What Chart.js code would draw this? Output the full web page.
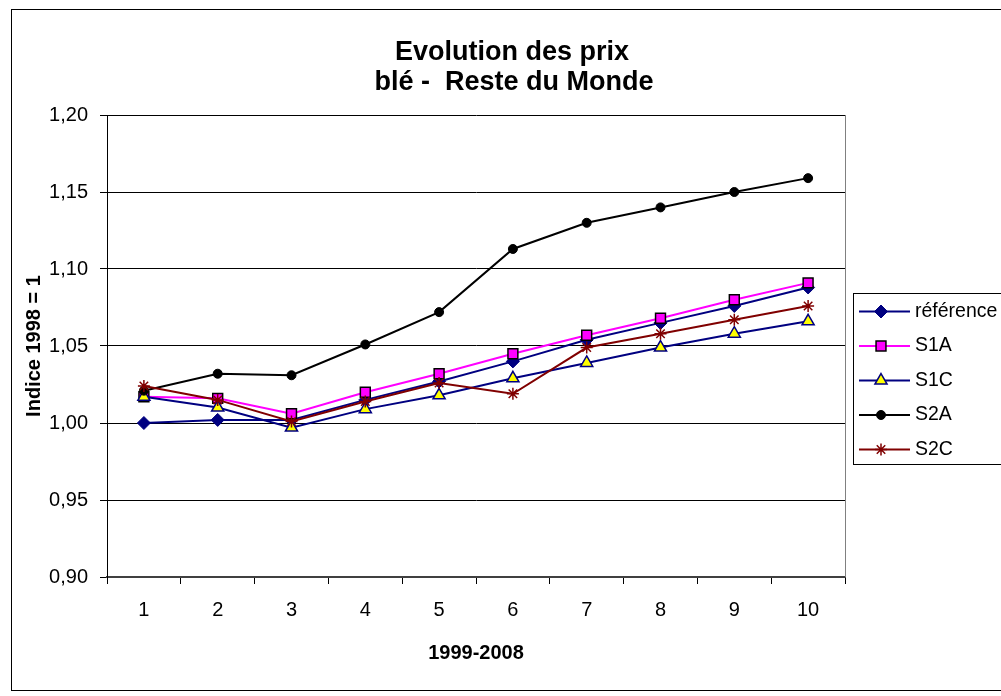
<!DOCTYPE html>
<html>
<head>
<meta charset="utf-8">
<script src="https://cdn.jsdelivr.net/npm/chart.js@4/dist/chart.umd.min.js"></script>
<style>
  html, body { margin: 0; padding: 0; background: #fff; }
  #wrap { position: relative; width: 1001px; height: 696px; }
</style>
</head>
<body>
<div id="wrap"><canvas id="prixChart" width="1001" height="696"></canvas></div>
<script>
// données
var annees = ['1', '2', '3', '4', '5', '6', '7', '8', '9', '10'];
var reference = [1.000, 1.002, 1.002, 1.015, 1.027, 1.040, 1.054, 1.065, 1.076, 1.088];
var s1a = [1.017, 1.016, 1.006, 1.020, 1.032, 1.045, 1.057, 1.068, 1.080, 1.091];
var s1c = [1.017, 1.010, 0.997, 1.009, 1.018, 1.029, 1.039, 1.049, 1.058, 1.066];
var s2a = [1.021, 1.032, 1.031, 1.051, 1.072, 1.113, 1.130, 1.140, 1.150, 1.159];
var s2c = [1.024, 1.015, 1.001, 1.014, 1.026, 1.019, 1.049, 1.058, 1.067, 1.076];
var nomsSeries = ['référence', 'S1A', 'S1C', 'S2A', 'S2C'];
var titre = ['Evolution des prix', 'blé -  Reste du Monde'];

var FONT = '"Liberation Sans", Arial, sans-serif';

var series = [
  { data: reference, line: '#000080', fill: '#000080', border: '#000080', style: 'rectRot', r: 6.5, bw: 1 },
  { data: s1a, line: '#FF00FF', fill: '#FF00FF', border: '#000000', style: 'rect', r: 7, bw: 1.5 },
  { data: s1c, line: '#000080', fill: '#FFFF00', border: '#000080', style: 'triangle', r: 7, bw: 1.5 },
  { data: s2a, line: '#000000', fill: '#000000', border: '#000000', style: 'circle', r: 4.5, bw: 1 },
  { data: s2c, line: '#800000', fill: '#800000', border: '#800000', style: 'star', r: 6, bw: 1.5 }
];

var datasets = [];
for (let i = 0; i < series.length; i++) {
  let s = series[i];
  datasets.push({
    label: nomsSeries[i],
    data: s.data,
    borderColor: s.line,
    borderWidth: 2,
    backgroundColor: s.fill,
    pointStyle: s.style,
    pointRadius: s.r,
    pointHoverRadius: s.r,
    pointBackgroundColor: s.fill,
    pointBorderColor: s.border,
    pointBorderWidth: s.bw,
    tension: 0,
    order: series.length - 1 - i
  });
}

// cadre, titre, bord droit et légende dessinés à la main
var decor = {
  id: 'decor',
  beforeDraw: function(chart) {
    var ctx = chart.ctx;
    ctx.save();
    ctx.fillStyle = '#fff';
    ctx.fillRect(0, 0, chart.width, chart.height);
    ctx.strokeStyle = '#000';
    ctx.lineWidth = 1;
    ctx.strokeRect(11.5, 9.5, 1010, 681);
    ctx.restore();
  },
  afterDraw: function(chart) {
    var ctx = chart.ctx;
    var ca = chart.chartArea;
    ctx.save();
    // bord droit de la zone de tracé
    ctx.strokeStyle = '#808080';
    ctx.lineWidth = 1;
    ctx.beginPath();
    ctx.moveTo(Math.round(ca.right) + 0.5, ca.top);
    ctx.lineTo(Math.round(ca.right) + 0.5, ca.bottom);
    ctx.stroke();

    // titre
    ctx.fillStyle = '#000';
    ctx.font = 'bold 27px ' + FONT;
    ctx.textAlign = 'center';
    ctx.textBaseline = 'alphabetic';
    ctx.fillText(titre[0], 512, 60);
    ctx.fillText(titre[1], 514, 90);

    // légende
    ctx.strokeStyle = '#000';
    ctx.strokeRect(853.5, 293.5, 200, 171);
    var ds = chart.data.datasets;
    for (let i = 0; i < ds.length; i++) {
      let y = 311.5 + i * 34.5;
      ctx.strokeStyle = ds[i].borderColor;
      ctx.lineWidth = 2;
      ctx.beginPath();
      ctx.moveTo(859, y);
      ctx.lineTo(910, y);
      ctx.stroke();
      ctx.fillStyle = ds[i].pointBackgroundColor;
      ctx.strokeStyle = ds[i].pointBorderColor;
      ctx.lineWidth = ds[i].pointBorderWidth;
      Chart.helpers.drawPoint(ctx, {
        pointStyle: ds[i].pointStyle,
        radius: ds[i].pointRadius,
        borderWidth: ds[i].pointBorderWidth,
        rotation: 0
      }, 881, y);
      ctx.fillStyle = '#000';
      ctx.font = '19.5px ' + FONT;
      ctx.textAlign = 'left';
      ctx.textBaseline = 'middle';
      ctx.fillText(ds[i].label, 915, y);
    }
    ctx.restore();
  }
};

new Chart(document.getElementById('prixChart'), {
  type: 'line',
  data: { labels: annees, datasets: datasets },
  options: {
    responsive: false,
    animation: false,
    events: [],
    layout: { padding: { left: 0, top: 115, right: 156, bottom: 0 }, autoPadding: false },
    plugins: {
      legend: { display: false },
      title: { display: false },
      tooltip: { enabled: false }
    },
    scales: {
      x: {
        type: 'category',
        offset: true,
        grid: { offset: true, drawOnChartArea: false, drawTicks: true, tickLength: 7, color: '#000', lineWidth: 1 },
        border: { color: '#404040', width: 2 },
        ticks: { color: '#000', font: { family: FONT, size: 20 }, padding: 14, maxRotation: 0, autoSkip: false },
        title: { display: true, text: '1999-2008', color: '#000', font: { family: FONT, size: 20, weight: 'bold' }, padding: { top: 0, bottom: 31 } },
        afterFit: function(scale) { scale.height = 119; }
      },
      y: {
        min: 0.9,
        max: 1.2,
        grid: { color: '#000', lineWidth: 1, drawTicks: true, tickLength: 7 },
        border: { color: '#000', width: 1 },
        ticks: {
          stepSize: 0.05,
          color: '#000',
          font: { family: FONT, size: 20 },
          padding: 12,
          callback: function(v) { return v.toFixed(2).replace('.', ','); }
        },
        title: { display: true, text: 'Indice 1998 = 1', color: '#000', font: { family: FONT, size: 20, weight: 'bold' }, padding: { top: 22, bottom: 0 } },
        afterFit: function(scale) { scale.width = 107; }
      }
    }
  },
  plugins: [decor]
});
</script>
</body>
</html>
